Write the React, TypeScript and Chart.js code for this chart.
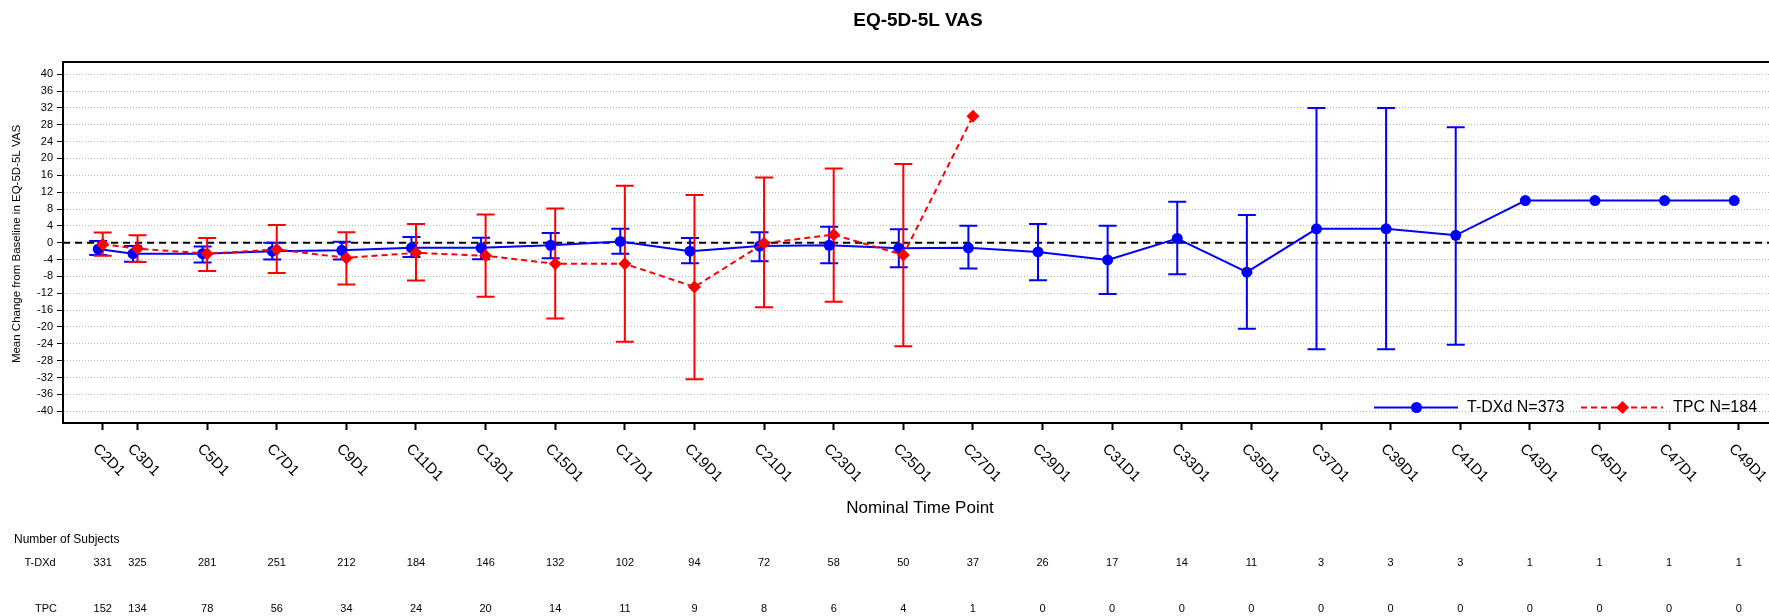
import React, { useEffect, useRef } from 'react';
import { Chart, registerables } from 'chart.js';

Chart.register(...registerables);

const FONT = "'Liberation Sans', Arial, Helvetica, sans-serif";

const timePoints = ['C2D1', 'C3D1', 'C5D1', 'C7D1', 'C9D1', 'C11D1', 'C13D1', 'C15D1', 'C17D1', 'C19D1', 'C21D1', 'C23D1', 'C25D1', 'C27D1', 'C29D1', 'C31D1', 'C33D1', 'C35D1', 'C37D1', 'C39D1', 'C41D1', 'C43D1', 'C45D1', 'C47D1', 'C49D1'];
const cycles = [2, 3, 5, 7, 9, 11, 13, 15, 17, 19, 21, 23, 25, 27, 29, 31, 33, 35, 37, 39, 41, 43, 45, 47, 49];

const tdxdMean = [-1.5, -2.6, -2.6, -2.0, -1.8, -1.2, -1.2, -0.6, 0.3, -2.0, -0.8, -0.6, -1.3, -1.2, -2.2, -4.1, 1.0, -7.0, 3.3, 3.3, 1.75, 10.0, 10.0, 10.0, 10.0];
const tdxdLower = [-2.9, -4.5, -4.7, -4.0, -4.0, -3.4, -3.9, -3.7, -2.6, -4.9, -4.4, -4.9, -5.8, -6.1, -8.9, -12.2, -7.5, -20.4, -25.3, -25.3, -24.2, null, null, null, null];
const tdxdUpper = [0.4, -0.8, -0.9, 0.0, 0.2, 1.35, 1.2, 2.3, 3.3, 1.1, 2.5, 3.8, 3.2, 4.05, 4.45, 4.05, 9.7, 6.6, 32.0, 32.0, 27.4, null, null, null, null];

const tpcMean = [-0.4, -1.4, -2.6, -1.6, -3.6, -2.4, -3.1, -5.0, -5.0, -10.5, -0.1, 1.9, -2.9, 30.0, null, null, null, null, null, null, null, null, null, null, null];
const tpcLower = [-3.1, -4.6, -6.7, -7.2, -9.9, -9.0, -12.8, -18.0, -23.5, -32.4, -15.3, -14.0, -24.6, null, null, null, null, null, null, null, null, null, null, null, null];
const tpcUpper = [2.4, 1.75, 1.1, 4.2, 2.5, 4.45, 6.7, 8.1, 13.5, 11.3, 15.5, 17.6, 18.7, null, null, null, null, null, null, null, null, null, null, null, null];

const tdxdN = [331, 325, 281, 251, 212, 184, 146, 132, 102, 94, 72, 58, 50, 37, 26, 17, 14, 11, 3, 3, 3, 1, 1, 1, 1];
const tpcN = [152, 134, 78, 56, 34, 24, 20, 14, 11, 9, 8, 6, 4, 1, 0, 0, 0, 0, 0, 0, 0, 0, 0, 0, 0];

const yTickValues = [-40, -36, -32, -28, -24, -20, -16, -12, -8, -4, 0, 4, 8, 12, 16, 20, 24, 28, 32, 36, 40];

const seriesNames = ['T-DXd N=373', 'TPC N=184'];
const rowNames = ['T-DXd', 'TPC'];

const BLUE = '#0000ff';
const RED = '#ff0000';
const BLUE_DX = -0.13;
const RED_DX = 0;

const customPlugin = {
  id: 'customDraw',
  beforeDatasetsDraw(chart: any) {
    const { ctx, chartArea, scales } = chart;
    const x = scales.x;
    const y = scales.y;
    ctx.save();
    // zero reference line
    const y0 = y.getPixelForValue(0);
    ctx.strokeStyle = '#000';
    ctx.lineWidth = 2;
    ctx.setLineDash([7, 5]);
    ctx.beginPath();
    ctx.moveTo(chartArea.left, y0);
    ctx.lineTo(chartArea.right, y0);
    ctx.stroke();
    ctx.setLineDash([]);

    const drawBars = (lo: (number | null)[], hi: (number | null)[], dx: number, color: string) => {
      ctx.strokeStyle = color;
      ctx.lineWidth = 2;
      for (let i = 0; i < cycles.length; i++) {
        const l = lo[i];
        const h = hi[i];
        if (l == null || h == null) continue;
        const px = x.getPixelForValue(cycles[i] + dx);
        const pl = y.getPixelForValue(l);
        const ph = y.getPixelForValue(h);
        ctx.beginPath();
        ctx.moveTo(px, pl);
        ctx.lineTo(px, ph);
        ctx.moveTo(px - 9, pl);
        ctx.lineTo(px + 9, pl);
        ctx.moveTo(px - 9, ph);
        ctx.lineTo(px + 9, ph);
        ctx.stroke();
      }
    };
    drawBars(tdxdLower, tdxdUpper, BLUE_DX, BLUE);
    drawBars(tpcLower, tpcUpper, RED_DX, RED);
    ctx.restore();
  },
  afterDraw(chart: any) {
    const { ctx, chartArea, scales } = chart;
    const x = scales.x;
    ctx.save();
    // top border
    ctx.strokeStyle = '#000';
    ctx.lineWidth = 2;
    ctx.beginPath();
    ctx.moveTo(chartArea.left - 1, chartArea.top);
    ctx.lineTo(chartArea.right, chartArea.top);
    ctx.stroke();

    ctx.fillStyle = '#000';
    // title
    ctx.font = `bold 19px ${FONT}`;
    ctx.textAlign = 'center';
    ctx.textBaseline = 'middle';
    ctx.fillText('EQ-5D-5L VAS', 918, 21);

    // y axis title
    ctx.save();
    ctx.translate(17, 244);
    ctx.rotate(-Math.PI / 2);
    ctx.font = `11.5px ${FONT}`;
    ctx.fillText('Mean Change from Baseline in EQ-5D-5L VAS', 0, 0);
    ctx.restore();

    // x tick labels rotated
    ctx.font = `15px ${FONT}`;
    ctx.textAlign = 'left';
    ctx.textBaseline = 'alphabetic';
    for (let i = 0; i < cycles.length; i++) {
      const tx = x.getPixelForValue(cycles[i]);
      ctx.save();
      ctx.translate(tx - 10.5, 449.5);
      ctx.rotate(Math.PI / 4);
      ctx.fillText(timePoints[i], 0, 0);
      ctx.restore();
    }

    // x axis title
    ctx.font = `17px ${FONT}`;
    ctx.textAlign = 'center';
    ctx.textBaseline = 'middle';
    ctx.fillText('Nominal Time Point', 920, 508);

    // table of subjects
    ctx.font = `12px ${FONT}`;
    ctx.textAlign = 'left';
    ctx.fillText('Number of Subjects', 14, 540);
    ctx.font = `11px ${FONT}`;
    ctx.textAlign = 'center';
    ctx.fillText(rowNames[0], 40, 563);
    ctx.fillText(rowNames[1], 46, 609);
    for (let i = 0; i < cycles.length; i++) {
      const tx = x.getPixelForValue(cycles[i]);
      ctx.fillText(String(tdxdN[i]), tx, 563);
      ctx.fillText(String(tpcN[i]), tx, 609);
    }

    // legend
    const ly = 407.5;
    ctx.lineWidth = 2;
    ctx.strokeStyle = BLUE;
    ctx.beginPath();
    ctx.moveTo(1374, ly);
    ctx.lineTo(1458, ly);
    ctx.stroke();
    ctx.fillStyle = BLUE;
    ctx.beginPath();
    ctx.arc(1416.5, ly, 5.5, 0, Math.PI * 2);
    ctx.fill();
    ctx.strokeStyle = RED;
    ctx.setLineDash([6, 4]);
    ctx.beginPath();
    ctx.moveTo(1581, ly);
    ctx.lineTo(1663, ly);
    ctx.stroke();
    ctx.setLineDash([]);
    ctx.fillStyle = RED;
    ctx.beginPath();
    ctx.moveTo(1622.5 - 6.5, ly);
    ctx.lineTo(1622.5, ly - 6.5);
    ctx.lineTo(1622.5 + 6.5, ly);
    ctx.lineTo(1622.5, ly + 6.5);
    ctx.closePath();
    ctx.fill();
    ctx.fillStyle = '#000';
    ctx.font = `16px ${FONT}`;
    ctx.textAlign = 'left';
    ctx.textBaseline = 'middle';
    ctx.fillText(seriesNames[0], 1467, ly);
    ctx.fillText(seriesNames[1], 1673, ly);
    ctx.restore();
  },
};

export default function App() {
  const canvasRef = useRef<HTMLCanvasElement | null>(null);

  useEffect(() => {
    const canvas = canvasRef.current;
    if (!canvas) return;
    const tdxdData = cycles.map((c, i) => ({ x: c + BLUE_DX, y: tdxdMean[i] }));
    const tpcData = cycles
      .map((c, i) => ({ x: c + RED_DX, y: tpcMean[i] }))
      .filter((p) => p.y != null);

    const chart = new Chart(canvas, {
      type: 'line',
      data: {
        datasets: [
          {
            label: seriesNames[0],
            data: tdxdData as any,
            borderColor: BLUE,
            backgroundColor: BLUE,
            borderWidth: 2,
            pointStyle: 'circle',
            pointRadius: 5.5,
            pointBorderWidth: 0,
            pointBackgroundColor: BLUE,
            tension: 0,
            order: 1,
          },
          {
            label: seriesNames[1],
            data: tpcData as any,
            borderColor: RED,
            backgroundColor: RED,
            borderWidth: 2,
            borderDash: [6, 4],
            pointStyle: 'rectRot',
            pointRadius: 6.5,
            pointBorderWidth: 0,
            pointBackgroundColor: RED,
            tension: 0,
            order: 0,
          },
        ],
      },
      options: {
        animation: false,
        responsive: false,
        devicePixelRatio: 1,
        layout: { autoPadding: false, padding: { top: 62, left: 0, right: 0, bottom: 0 } },
        plugins: {
          legend: { display: false },
          title: { display: false },
          tooltip: { enabled: false },
        },
        scales: {
          x: {
            type: 'linear',
            min: 0.859,
            max: 49.87,
            afterBuildTicks: (s: any) => {
              s.ticks = cycles.map((v) => ({ value: v }));
            },
            afterFit: (s: any) => {
              s.height = 193;
              s.paddingLeft = 0;
              s.paddingRight = 0;
            },
            grid: {
              display: true,
              drawOnChartArea: false,
              drawTicks: true,
              tickLength: 7,
              tickColor: '#000',
              tickWidth: 2,
            },
            border: { display: true, color: '#000', width: 2 },
            ticks: { display: false },
          },
          y: {
            type: 'linear',
            min: -42.8,
            max: 42.9,
            afterBuildTicks: (s: any) => {
              s.ticks = yTickValues.map((v) => ({ value: v }));
            },
            afterFit: (s: any) => {
              s.width = 63;
            },
            grid: {
              color: '#b8b8b8',
              lineWidth: 1,
              drawTicks: true,
              tickLength: 6,
              tickColor: '#000',
              tickWidth: 1,
            },
            border: { display: true, color: '#000', width: 2, dash: [1, 2] },
            ticks: {
              color: '#000',
              font: { size: 11, family: FONT },
              padding: 4,
              autoSkip: false,
            },
          },
        },
      },
      plugins: [customPlugin],
    });
    return () => chart.destroy();
  }, []);

  return (
    <div style={{ position: 'fixed', left: 0, top: 0, width: 1769, height: 616, background: '#fff' }}>
      <canvas ref={canvasRef} width={1769} height={616} style={{ display: 'block', width: 1769, height: 616 }} />
    </div>
  );
}
